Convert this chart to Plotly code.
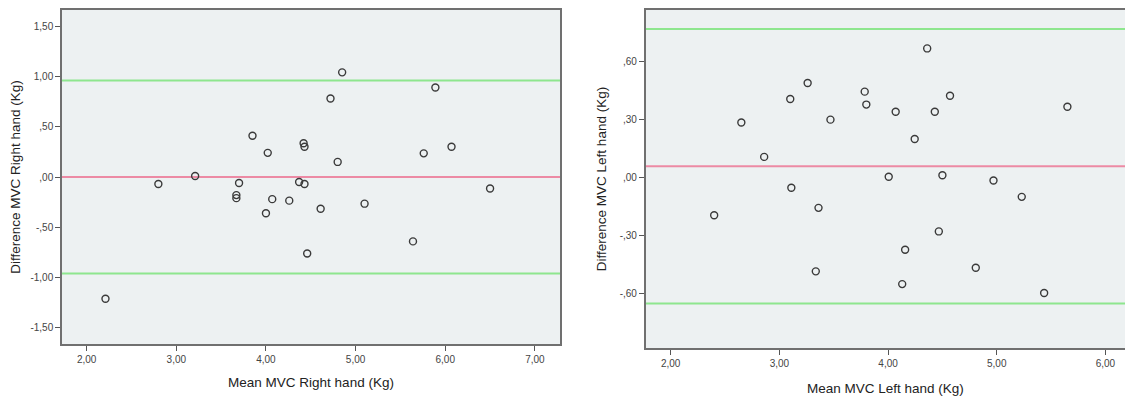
import plotly.graph_objects as go

# ---- data: Right hand ----
right_mean_mvc = [2.21, 2.80, 3.21, 3.67, 3.67, 3.70, 3.85, 4.00, 4.02, 4.07, 4.26, 4.37, 4.42,
                  4.43, 4.43, 4.46, 4.61, 4.72, 4.80, 4.85, 5.10, 5.64, 5.76, 5.89, 6.07, 6.50]
right_diff_mvc = [-1.21, -0.07, 0.01, -0.18, -0.21, -0.06, 0.41, -0.36, 0.24, -0.22, -0.235, -0.05, 0.335,
                  0.30, -0.07, -0.76, -0.315, 0.78, 0.15, 1.04, -0.265, -0.64, 0.235, 0.89, 0.30, -0.115]
right_bias = 0.0
right_loa_upper = 0.96
right_loa_lower = -0.96

# ---- data: Left hand ----
left_mean_mvc = [2.40, 2.65, 2.86, 3.10, 3.11, 3.26, 3.335, 3.36, 3.47, 3.785, 3.80, 4.006, 4.07,
                 4.13, 4.157, 4.245, 4.36, 4.43, 4.467, 4.50, 4.57, 4.807, 4.97, 5.23, 5.436, 5.65]
left_diff_mvc = [-0.195, 0.285, 0.107, 0.407, -0.053, 0.49, -0.486, -0.157, 0.30, 0.445, 0.378, 0.004, 0.341,
                 -0.552, -0.374, 0.20, 0.669, 0.341, -0.279, 0.012, 0.424, -0.467, -0.015, -0.10, -0.598, 0.367]
left_bias = 0.058
left_loa_upper = 0.769
left_loa_lower = -0.653

# ---- tick labels ----
r_xticks = [2, 3, 4, 5, 6, 7]
r_xtext = ["2,00", "3,00", "4,00", "5,00", "6,00", "7,00"]
r_yticks = [-1.5, -1.0, -0.5, 0.0, 0.5, 1.0, 1.5]
r_ytext = ["-1,50", "-1,00", "-,50", ",00", ",50", "1,00", "1,50"]
l_xticks = [2, 3, 4, 5, 6]
l_xtext = ["2,00", "3,00", "4,00", "5,00", "6,00"]
l_yticks = [-0.6, -0.3, 0.0, 0.3, 0.6]
l_ytext = ["-,60", "-,30", ",00", ",30", ",60"]

W, H = 1125, 398
FONT = "Liberation Sans, Arial, sans-serif"
FRAME = "#707070"
GREEN = "#8ee68e"
PINK = "#ec8aa4"

fig = go.Figure()
marker = dict(symbol="circle-open", size=7, color="#3a3a3a", line=dict(width=1.4, color="#3a3a3a"))
fig.add_trace(go.Scatter(x=right_mean_mvc, y=right_diff_mvc, mode="markers", marker=marker,
                         xaxis="x", yaxis="y", showlegend=False))
fig.add_trace(go.Scatter(x=left_mean_mvc, y=left_diff_mvc, mode="markers", marker=marker,
                         xaxis="x2", yaxis="y2", showlegend=False))

def hline(y, color, xa, ya):
    fig.add_shape(type="line", xref=f"{xa} domain", yref=ya, x0=0, x1=1, y0=y, y1=y,
                  line=dict(color=color, width=2), layer="below")

hline(right_loa_upper, GREEN, "x", "y")
hline(right_loa_lower, GREEN, "x", "y")
hline(right_bias, PINK, "x", "y")
hline(left_loa_upper, GREEN, "x2", "y2")
hline(left_loa_lower, GREEN, "x2", "y2")
hline(left_bias, PINK, "x2", "y2")

tickfont = dict(family=FONT, size=10, color="#444")
titlefont = dict(family=FONT, size=13.5, color="#222")

axis_common = dict(showgrid=False, zeroline=False, showline=True, linecolor=FRAME, linewidth=1.5,
                   ticks="outside", ticklen=5, tickwidth=1.3, tickcolor="#555",
                   tickfont=tickfont, automargin=False)

fig.update_layout(
    width=W, height=H,
    margin=dict(l=0, r=0, t=0, b=0),
    paper_bgcolor="white",
    plot_bgcolor="#edf1f2",
    showlegend=False,
    xaxis=dict(axis_common, domain=[62 / W, 560 / W], range=[1.725, 7.28], mirror=True,
               tickvals=r_xticks, ticktext=r_xtext,
               title=dict(text="Mean MVC Right hand (Kg)", font=titlefont, standoff=14),
               anchor="y"),
    yaxis=dict(axis_common, domain=[(H - 344) / H, (H - 10) / H], range=[-1.66, 1.66], mirror=True,
               tickvals=r_yticks, ticktext=r_ytext,
               title=dict(text="Difference MVC Right hand (Kg)", font=titlefont, standoff=7),
               anchor="x"),
    xaxis2=dict(axis_common, domain=[645.7 / W, 1.0], range=[1.77, 6.18], mirror=True,
                tickvals=l_xticks, ticktext=l_xtext,
                title=dict(text="Mean MVC Left hand (Kg)", font=titlefont, standoff=16),
                anchor="y2"),
    yaxis2=dict(axis_common, domain=[(H - 348) / H, (H - 10) / H], range=[-0.883, 0.868], mirror=False,
                tickvals=l_yticks, ticktext=l_ytext,
                title=dict(text="Difference MVC Left hand (Kg)", font=titlefont, standoff=10),
                anchor="x2"),
)

fig.write_html("out.html")
